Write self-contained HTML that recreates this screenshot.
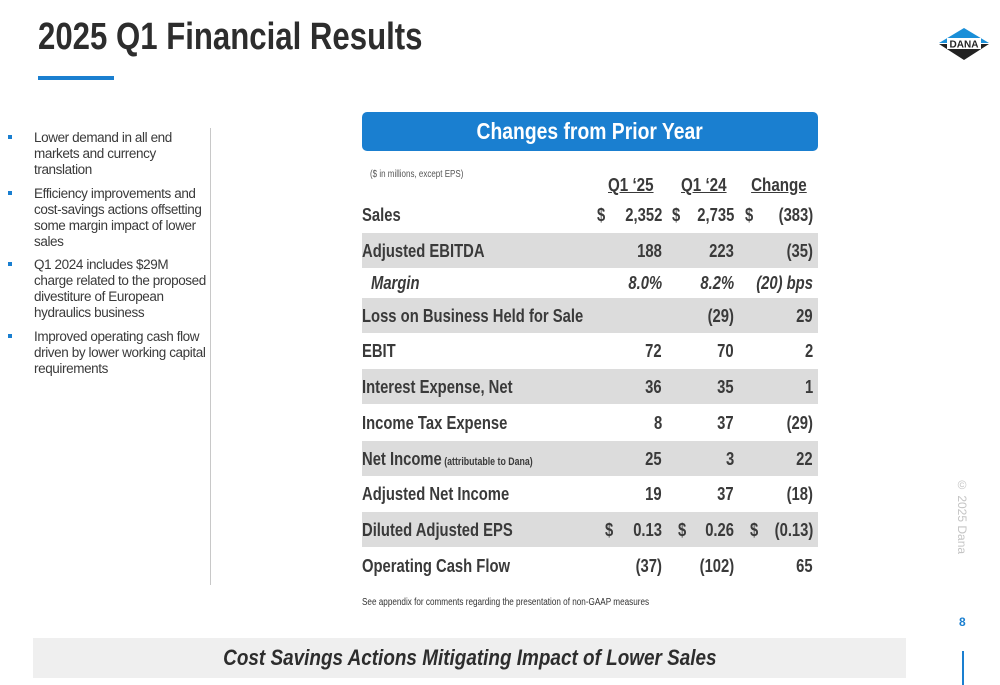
<!DOCTYPE html>
<html><head><meta charset="utf-8"><style>
body{margin:0;width:1000px;height:685px;position:relative;background:#fff;font-family:"Liberation Sans",Arial,sans-serif;color:#3a3a3a;overflow:hidden}
.a{position:absolute;white-space:nowrap}
.sl{display:inline-block;transform:scaleX(.8);transform-origin:left center}
.sr{display:inline-block;transform:scaleX(.8);transform-origin:right center}
.row{position:absolute;left:362px;width:456px;height:35px}
.cell{position:absolute;font-weight:bold;font-size:18.5px;line-height:20px;white-space:nowrap}
.bul li{margin-bottom:7.5px}
</style></head><body>
<div class="a" style="left:38px;top:16px;font-size:38px;font-weight:bold;color:#2d2d2d"><span class="sl" style="transform:scaleX(.82)">2025 Q1 Financial Results</span></div>
<div class="a" style="left:38px;top:76px;width:76px;height:4px;background:#1a7fd0"></div>
<svg class="a" style="left:938px;top:27px" width="52" height="34" viewBox="0 0 52 34">
<polygon points="26,1 51,16 1,16" fill="#1a8fd8"/><polygon points="1,17 51,17 26,33" fill="#222"/>
<rect x="9" y="11" width="34" height="11" fill="#fff"/>
<text x="26" y="20.5" text-anchor="middle" font-family="Liberation Sans" font-weight="bold" font-size="10" fill="#222">DANA</text></svg>

<ul class="a bul" style="left:0;top:130px;width:215px;margin:0;padding:0;list-style:none;font-size:13.5px;letter-spacing:-0.4px;line-height:16px;color:#3a3a3a;white-space:normal">
<li style="position:relative;padding-left:34px"><span style="position:absolute;left:8px;top:5px;width:4px;height:4px;background:#1a7fd0"></span>Lower demand in all end<br>markets and currency<br>translation</li>
<li style="position:relative;padding-left:34px"><span style="position:absolute;left:8px;top:5px;width:4px;height:4px;background:#1a7fd0"></span>Efficiency improvements and<br>cost-savings actions offsetting<br>some margin impact of lower<br>sales</li>
<li style="position:relative;padding-left:34px"><span style="position:absolute;left:8px;top:5px;width:4px;height:4px;background:#1a7fd0"></span>Q1 2024 includes $29M<br>charge related to the proposed<br>divestiture of European<br>hydraulics business</li>
<li style="position:relative;padding-left:34px"><span style="position:absolute;left:8px;top:5px;width:4px;height:4px;background:#1a7fd0"></span>Improved operating cash flow<br>driven by lower working capital<br>requirements</li>
</ul>
<div class="a" style="left:210px;top:128px;width:1px;height:457px;background:#c8c8c8"></div>

<div class="a" style="left:362px;top:112px;width:456px;height:39px;background:#1a7fd0;border-radius:5px;color:#fff;font-weight:bold;font-size:23px;line-height:39px;text-align:center"><span style="display:inline-block;transform:scaleX(.84)">Changes from Prior Year</span></div>
<div class="a" style="left:370px;top:169px;font-size:10px;color:#555"><span class="sl">($ in millions, except EPS)</span></div>
<div class="a" style="left:591px;top:174px;width:80px;text-align:center;font-weight:bold;font-size:18.5px"><span style="display:inline-block;transform:scaleX(.82);text-decoration:underline">Q1 ‘25</span></div>
<div class="a" style="left:664px;top:174px;width:80px;text-align:center;font-weight:bold;font-size:18.5px"><span style="display:inline-block;transform:scaleX(.82);text-decoration:underline">Q1 ‘24</span></div>
<div class="a" style="left:739px;top:174px;width:80px;text-align:center;font-weight:bold;font-size:18.5px"><span style="display:inline-block;transform:scaleX(.82);text-decoration:underline">Change</span></div>

<div id="tbl"></div>

<div class="a" style="left:362px;top:597px;font-size:10px;color:#333"><span class="sl" style="transform:scaleX(.815)">See appendix for comments regarding the presentation of non-GAAP measures</span></div>
<div class="a" style="left:955px;top:478px;font-size:12px;color:#c4c4c4;writing-mode:vertical-rl">© 2025 Dana</div>
<div class="a" style="left:959px;top:615px;font-size:12px;font-weight:bold;color:#1a7fd0">8</div>
<div class="a" style="left:962px;top:651px;width:2px;height:34px;background:#1a7fd0"></div>
<div class="a" style="left:33px;top:638px;width:873px;height:40px;background:#efefef;text-align:center;font-size:22px;font-weight:bold;font-style:italic;line-height:40px;color:#2d2d2d"><span style="display:inline-block;transform:scaleX(.86)">Cost Savings Actions Mitigating Impact of Lower Sales</span></div>

<script>
const labels=["Sales","Adjusted EBITDA","Margin","Loss on Business Held for Sale","EBIT","Interest Expense, Net","Income Tax Expense","Net Income","Adjusted Net Income","Diluted Adjusted EPS","Operating Cash Flow"];
const q125=["2,352","188","8.0%","","72","36","8","25","19","0.13","(37)"];
const q124=["2,735","223","8.2%","(29)","70","35","37","3","37","0.26","(102)"];
const chg=["(383)","(35)","(20) bps","29","2","1","(29)","22","(18)","(0.13)","65"];
const centers=[215,251,283,316,351,387,423,459,494,530,566];
const shaded=[0,1,0,1,0,1,0,1,0,1,0];
const tbl=document.getElementById('tbl');
function cell(parent,txt,style,cls,name){
  const d=document.createElement('div');d.className='cell';d.style.cssText=style;
  
  
  const s=document.createElement('span');s.className=cls;s.textContent=txt;
  if(name==='row-label'&&txt==='Net Income'){const sm=document.createElement('span');sm.textContent=' (attributable to Dana)';sm.style.fontSize='11px';s.appendChild(sm);}
  d.appendChild(s);parent.appendChild(d);
}
labels.forEach((lab,i)=>{
  const r=document.createElement('div');r.className='row';
  r.style.top=(centers[i]-18)+'px';
  if(shaded[i])r.style.background='#dcdcdc';
  
  
  tbl.appendChild(r);
  const it=i===2?'font-style:italic;':'';
  const t=8;
  cell(r,lab,'left:'+(i===2?9:0)+'px;top:'+t+'px;'+it,'sl','row-label');
  const eps=i===9;
  cell(r,q125[i],'right:'+(818-662)+'px;top:'+t+'px;'+it,'sr','value-q1-25');
  cell(r,q124[i],'right:'+(818-734)+'px;top:'+t+'px;'+it,'sr','value-q1-24');
  cell(r,chg[i],'right:'+(818-813)+'px;top:'+t+'px;'+it,'sr','value-change');
  if(i===0||eps){
    const xs=eps?[605,678,750]:[597,672,745];
    xs.forEach(x=>cell(r,'$','left:'+(x-362)+'px;top:'+t+'px;','sl','dollar-sign'));
  }
});
</script>
</body></html>
